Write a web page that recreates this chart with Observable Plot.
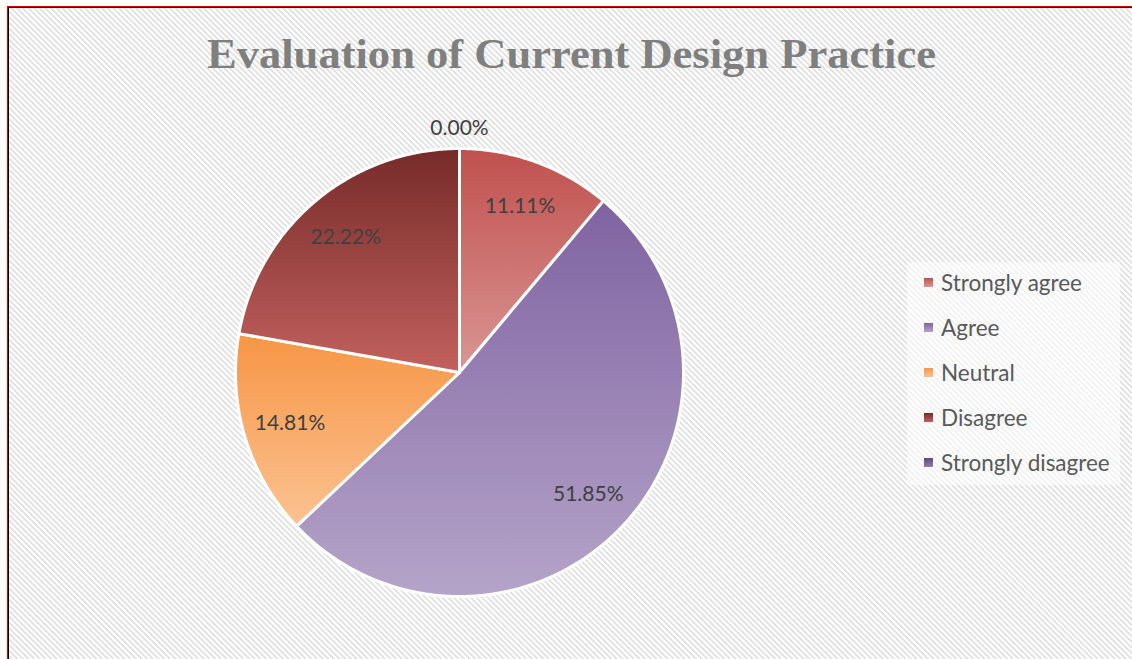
<!DOCTYPE html>
<html><head><meta charset="utf-8">
<script src="https://cdn.jsdelivr.net/npm/d3@7"></script>
<script src="https://cdn.jsdelivr.net/npm/@observablehq/plot@0.6"></script>
<style>
html,body{margin:0;padding:0;background:#fff;}
#page{position:relative;width:1132px;height:659px;overflow:hidden;background:#fff;}
#frame{position:absolute;left:7px;top:6px;width:1140px;height:670px;border-top:1px solid #e00000;border-left:1px solid #e00000;}
#inner{position:absolute;left:0;top:0;right:0;bottom:0;border-top:1px solid #000;border-left:1px solid #000;
  background:repeating-linear-gradient(45deg,#ffffff 0px,#ffffff 1.3px,#e2e2e2 2.1px,#e2e2e2 3.2px,#ffffff 4px);}
#legendBox{position:absolute;left:907px;top:262px;width:213px;height:223px;background:rgba(255,255,255,0.55);}
.row{position:absolute;left:924px;height:30px;display:flex;align-items:center;font-family:Lato,"Open Sans",sans-serif;font-size:22.5px;color:#595959;white-space:nowrap;}
.sw{width:9px;height:9px;margin-right:8px;}
#plotHolder{position:absolute;left:0;top:0;}
#titleSvg{position:absolute;left:0;top:0;}
</style>
</head><body>
<div id="page">
  <div id="frame"><div id="inner"></div></div>
  <div id="legendBox"></div>
  <div id="plotHolder"></div>
  <svg id="titleSvg" width="1132" height="100"></svg>
  <div id="legend"></div>
</div>
<script>
const title = "Evaluation of Current Design Practice";
const categories = ["Strongly agree", "Agree", "Neutral", "Disagree", "Strongly disagree"];
const shares = [11.11, 51.85, 14.81, 22.22, 0.00];
const labels = ["11.11%", "51.85%", "14.81%", "22.22%", "0.00%"];
const topColors = ["#c0504d", "#7f63a1", "#f79646", "#762b29", "#5f497a"];
const bottomColors = ["#da9694", "#b5a4c9", "#fbc291", "#c2615e", "#8f7db1"];

// build slice geometry from the values (angles clockwise from top)
const total = d3.sum(shares);
let acc = 0;
const slices = shares.map((v, i) => {
  const a0 = acc / total * 2 * Math.PI;
  acc += v;
  const a1 = acc / total * 2 * Math.PI;
  const pts = [{x: 0, y: 0}];
  const n = Math.max(2, Math.ceil((a1 - a0) / (Math.PI / 360)));
  for (let k = 0; k <= n; k++) {
    const a = a0 + (a1 - a0) * k / n;
    pts.push({x: Math.sin(a), y: Math.cos(a)});
  }
  pts.push({x: 0, y: 0});
  return {i, v, a0, a1, mid: (a0 + a1) / 2, pts};
});
const labelData = slices.map(s => {
  const r = s.v > 0 ? 0.79 : 1.09;
  return {x: r * Math.sin(s.mid), y: r * Math.cos(s.mid), text: labels[s.i]};
});

const W = 1132, H = 659;
const plot = Plot.plot({
  width: W, height: H,
  marginLeft: 235, marginRight: W - 235 - 448,
  marginTop: 148, marginBottom: H - 148 - 448,
  x: {domain: [-1, 1], axis: null},
  y: {domain: [-1, 1], axis: null},
  style: {background: "transparent", overflow: "visible"},
  marks: [
    ...slices.filter(s => s.v > 0).map(s =>
      Plot.line(s.pts, {x: "x", y: "y", curve: "linear",
        fill: `url(#grad${s.i})`, stroke: "white", strokeWidth: 3, strokeLinejoin: "round"})
    ),
    Plot.text(labelData, {x: "x", y: "y", text: "text", fontSize: 21,
      fontFamily: "Lato, 'Open Sans', sans-serif", fill: "#404040"})
  ]
});
const defs = d3.select(plot).insert("defs", ":first-child");
categories.forEach((c, i) => {
  const g = defs.append("linearGradient").attr("id", `grad${i}`)
    .attr("x1", 0).attr("y1", 0).attr("x2", 0).attr("y2", 1);
  g.append("stop").attr("offset", "0%").attr("stop-color", topColors[i]);
  g.append("stop").attr("offset", "100%").attr("stop-color", bottomColors[i]);
});
document.getElementById("plotHolder").appendChild(plot);

// title
d3.select("#titleSvg").append("text")
  .attr("x", 571.5).attr("y", 68)
  .attr("text-anchor", "middle")
  .attr("font-family", "'Liberation Serif', 'DejaVu Serif', serif")
  .attr("font-weight", "bold").attr("font-size", 42)
  .attr("fill", "#7f7f7f")
  .attr("textLength", 729).attr("lengthAdjust", "spacingAndGlyphs")
  .text(title);

// legend
const leg = d3.select("#legend");
categories.forEach((c, i) => {
  const row = leg.append("div").attr("class", "row").style("top", (282 - 15 + i * 45) + "px");
  row.append("div").attr("class", "sw")
    .style("background", `linear-gradient(${topColors[i]}, ${bottomColors[i]})`);
  row.append("span").text(c);
});
</script>
</body></html>
